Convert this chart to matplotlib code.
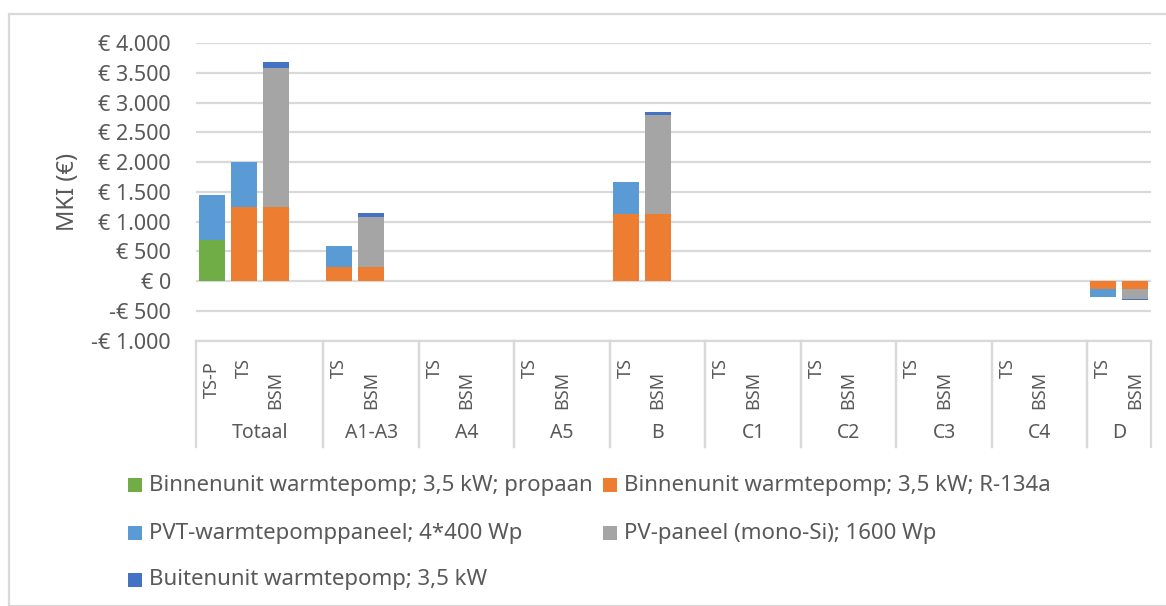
import matplotlib
matplotlib.use("Agg")
import matplotlib.pyplot as plt
from matplotlib.patches import Rectangle
from matplotlib.lines import Line2D
import numpy as np

plt.rcParams['font.family'] = ['Noto Sans', 'DejaVu Sans']

# ---------------- data ----------------
groups = ["Totaal", "A1-A3", "A4", "A5", "B", "C1", "C2", "C3", "C4", "D"]
group_bars = [["TS-P", "TS", "BSM"]] + [["TS", "BSM"]] * 9

series_names = [
    "Binnenunit warmtepomp; 3,5 kW; propaan",
    "Binnenunit warmtepomp; 3,5 kW; R-134a",
    "PVT-warmtepomppaneel; 4*400 Wp",
    "PV-paneel (mono-Si); 1600 Wp",
    "Buitenunit warmtepomp; 3,5 kW",
]
series_colors = ["#70AD47", "#ED7D31", "#5B9BD5", "#A5A5A5", "#4472C4"]

# values per bar, in order: Totaal(TS-P,TS,BSM), A1-A3(TS,BSM), A4, A5, B, C1, C2, C3, C4, D
propaan = [690, 0, 0,   0, 0,   0, 0, 0, 0,   0, 0,      0, 0, 0, 0, 0, 0, 0, 0,   0, 0]
r134a   = [0, 1240, 1240, 235, 235, 0, 0, 0, 0, 1120, 1120, 0, 0, 0, 0, 0, 0, 0, 0, -140, -140]
pvt     = [760, 760, 0, 350, 0,  0, 0, 0, 0,  540, 0,   0, 0, 0, 0, 0, 0, 0, 0, -125, 0]
pv      = [0, 0, 2340,  0, 835,  0, 0, 0, 0,  0, 1675,  0, 0, 0, 0, 0, 0, 0, 0,  0, -165]
buiten  = [0, 0, 105,   0, 72,   0, 0, 0, 0,  0, 40,    0, 0, 0, 0, 0, 0, 0, 0,  0, -12]
series_values = [propaan, r134a, pvt, pv, buiten]

yticks = list(range(-1000, 4001, 500))

def euro(v):
    s = f"{abs(v):,}".replace(",", ".")
    return f"-€ {s}" if v < 0 else f"€ {s}"

# ---------------- layout ----------------
W, H = 1166, 606
fig = plt.figure(figsize=(W / 100, H / 100), dpi=100)
txt = "#595959"
gridc = "#D9D9D9"

ax_l, ax_r, ax_t, ax_b = 196, 1151, 43, 340.5
ax = fig.add_axes([ax_l / W, 1 - ax_b / H, (ax_r - ax_l) / W, (ax_b - ax_t) / H])

# slot positions: each group has its bars plus one empty slot (except last)
positions = []
group_spans = []
slot = 0
for gi, bars in enumerate(group_bars):
    start = slot
    for _ in bars:
        positions.append(slot + 0.5)
        slot += 1
    if gi < len(group_bars) - 1:
        slot += 1
    group_spans.append((start, slot))
nslots = slot
positions = np.array(positions)
sublabels = [b for bars in group_bars for b in bars]

pos_bottom = np.zeros(len(positions))
neg_bottom = np.zeros(len(positions))
for vals, col in zip(series_values, series_colors):
    v = np.array(vals, dtype=float)
    bottom = np.where(v >= 0, pos_bottom, neg_bottom)
    ax.bar(positions, v, bottom=bottom, width=0.82, color=col, zorder=3, linewidth=0)
    pos_bottom += np.where(v >= 0, v, 0)
    neg_bottom += np.where(v < 0, v, 0)

ax.set_xlim(0, nslots)
ax.set_ylim(-1000, 4000)
ax.set_yticks(yticks)
ax.set_yticklabels([euro(v) for v in yticks], color=txt, fontsize=15.5)
ax.tick_params(axis='y', length=0, pad=18)
ax.set_xticks([])
ax.yaxis.grid(True, color=gridc, linewidth=1.6, zorder=0)
for s in ax.spines.values():
    s.set_visible(False)
ax.set_ylabel("MKI (€)", color=txt, fontsize=17, labelpad=8)

# category table lines (figure pixel coords)
def fx(px):
    return px / W
def fy(py):
    return 1 - py / H

slot_w = (ax_r - ax_l) / nslots
fig.add_artist(Line2D([fx(ax_l), fx(ax_r)], [fy(ax_b), fy(ax_b)], color=gridc, lw=1.6))
for (s0, s1) in group_spans:
    for s in (s0, s1):
        xp = ax_l + s * slot_w
        fig.add_artist(Line2D([fx(xp), fx(xp)], [fy(ax_b), fy(447)], color=gridc, lw=1.6))

sub_center_y = {"TS": 368, "BSM": 390, "TS-P": 380}
for p, lab in zip(positions, sublabels):
    xp = ax_l + p * slot_w
    fig.text(fx(xp), fy(sub_center_y[lab]), lab, rotation=90, ha='center', va='center',
             color=txt, fontsize=13)
for g, (s0, s1) in zip(groups, group_spans):
    xp = ax_l + (s0 + s1) / 2 * slot_w
    fig.text(fx(xp), fy(433), g, ha='center', va='center', color=txt, fontsize=14)

# legend (manual)
leg_rows = [485, 533, 580]
leg_cols = [128, 603]
order = [(0, 0, 0), (1, 0, 1), (2, 1, 0), (3, 1, 1), (4, 2, 0)]
for si, r, c in order:
    x0 = leg_cols[c]
    y0 = leg_rows[r]
    fig.add_artist(Rectangle((fx(x0), fy(y0 + 7)), 14 / W, 14 / H, transform=fig.transFigure,
                             color=series_colors[si], lw=0))
    fig.text(fx(x0 + 21), fy(y0), series_names[si], ha='left', va='center', color=txt, fontsize=16)

# chart border
fig.add_artist(Rectangle((fx(8.5), 0), 2, fy(14) , transform=fig.transFigure,
                         fill=False, edgecolor=gridc, lw=1.6))

fig.savefig("out.png", dpi=100)
